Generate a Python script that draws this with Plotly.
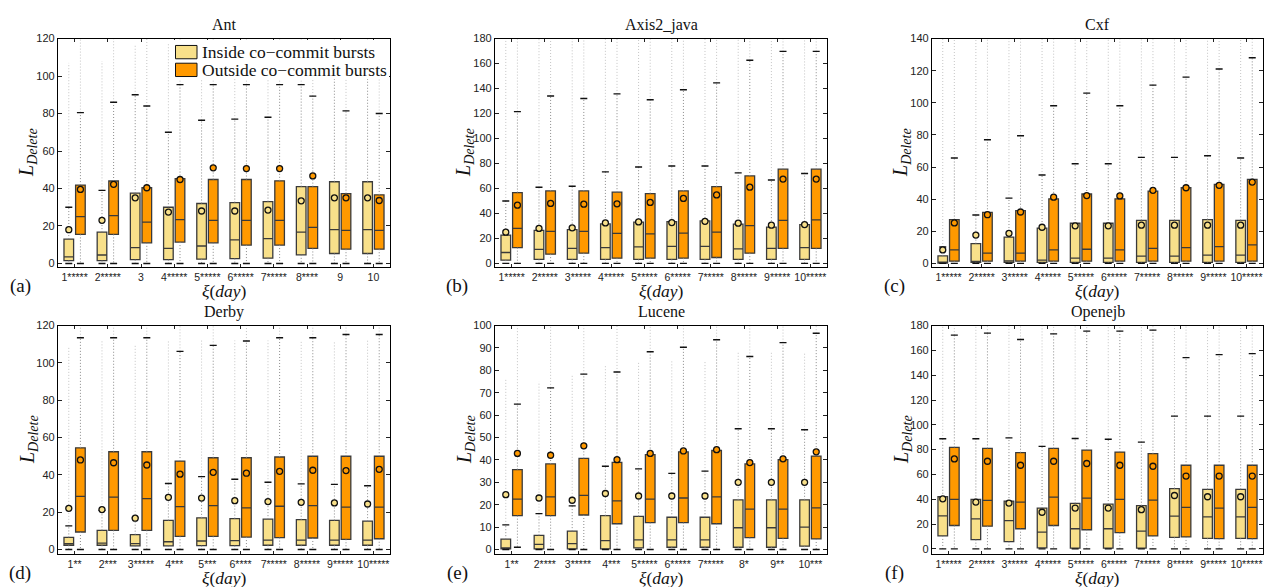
import plotly.graph_objects as go

W, H = 1264, 587
IN_COLOR = '#F8E08A'
OUT_COLOR = '#FF9900'

# ---------------- Ant ----------------
ANT_LABELS = ['1*****', '2*****', '3', '4*****', '5*****', '6*****', '7*****', '8****', '9', '10']
ANT_IN_Q1 = [1.5, 1.5, 2, 2, 2.3, 2.6, 2.8, 4.6, 5.3, 5.3]
ANT_IN_MED = [3.5, 4.5, 8.4, 8, 9.3, 12.6, 13.3, 16.7, 18, 18]
ANT_IN_Q3 = [13, 16.7, 37.5, 30, 32, 32.5, 33, 41, 43.6, 43.6]
ANT_IN_MEAN = [18, 23, 35, 27.4, 28, 28, 28.5, 33.4, 35, 35]
ANT_IN_WHI = [30, 39, 90, 70, 76.4, 77, 78, 95.4, 125, 125]
ANT_IN_WLO = [0, 0, 0, 0, 0, 0, 0, 0, 0, 0]
ANT_IN_OMAX = [107, 108, 117, 117, 118, 118, 118, 120, 125, 125]
ANT_OUT_Q1 = [15.5, 15.5, 11, 11.4, 11, 9.8, 9.8, 8, 7.6, 7.6]
ANT_OUT_MED = [25, 25.5, 22, 23.4, 23, 23, 23, 19.3, 17.6, 17.6]
ANT_OUT_Q3 = [41.8, 44, 40.4, 45.3, 44.8, 44.8, 44.1, 41, 37.3, 36.6]
ANT_OUT_MEAN = [39.5, 42.2, 40.4, 44.8, 51, 50.6, 50.6, 46.7, 35, 33.6]
ANT_OUT_WHI = [80.5, 86, 84, 95.4, 95.4, 95.4, 95.4, 89.3, 81.4, 80]
ANT_OUT_WLO = [0, 0, 0, 0, 0, 0, 0, 0, 0, 0]
ANT_OUT_OMAX = [125, 125, 125, 125, 125, 125, 125, 125, 125, 125]

# ---------------- Axis2_java ----------------
AXIS_LABELS = ['1*****', '2*****', '3*****', '4*****', '5*****', '6*****', '7*****', '8*****', '9*****', '10*****']
AXIS_IN_Q1 = [2.6, 3.2, 3.2, 3.2, 3.2, 3.2, 3.2, 3.2, 3.2, 3.2]
AXIS_IN_MED = [8.7, 11.3, 12, 12.6, 13.2, 13.7, 13.7, 11.6, 12.1, 12.6]
AXIS_IN_Q3 = [22.7, 26.4, 27, 31.6, 33, 33.5, 34, 31.4, 29, 31]
AXIS_IN_MEAN = [25, 28, 28.5, 32.4, 33.2, 32.7, 33.7, 32.2, 30.6, 31.1]
AXIS_IN_WHI = [50, 61, 61.7, 73.3, 77.2, 78, 78, 72.5, 66.7, 72]
AXIS_IN_WLO = [0, 0, 0, 0, 0, 0, 0, 0, 0, 0]
AXIS_IN_OMAX = [190, 190, 190, 190, 190, 190, 190, 190, 190, 190]
AXIS_OUT_Q1 = [12.6, 7.4, 8.2, 4.2, 4.2, 4.2, 4.7, 8.2, 12, 12]
AXIS_OUT_MED = [28, 25.6, 25.6, 24, 23.7, 24.2, 25, 30.3, 34.5, 34.8]
AXIS_OUT_Q3 = [56.7, 58, 58, 57, 55.9, 58, 61.4, 70, 75.4, 75.4]
AXIS_OUT_MEAN = [46.6, 48, 47.4, 47.7, 48.8, 52, 54.8, 61, 67.5, 67.5]
AXIS_OUT_WHI = [121.5, 134, 132, 135.7, 131, 139, 144.5, 162.6, 169.7, 169.7]
AXIS_OUT_WLO = [0, 0, 0, 0, 0, 0, 0, 0, 0, 0]
AXIS_OUT_OMAX = [190, 190, 190, 190, 190, 190, 190, 190, 190, 190]

# ---------------- Cxf ----------------
CXF_LABELS = ['1*****', '2*****', '3*****', '4*****', '5*****', '6*****', '7*****', '8*****', '9*****', '10*****']
CXF_IN_Q1 = [0.2, 0.6, 0.6, 0.6, 0.6, 0.6, 0.6, 0.6, 0.6, 0.6]
CXF_IN_MED = [0.5, 1, 1.6, 2, 3.3, 3.3, 4.5, 4.5, 5.1, 5.1]
CXF_IN_Q3 = [4.7, 12.3, 16.4, 22, 25, 25, 26.8, 26.8, 27.3, 26.8]
CXF_IN_MEAN = [8.4, 17.6, 18.7, 22.5, 23.4, 23.4, 23.8, 23.8, 23.8, 23.8]
CXF_IN_WHI = [10.2, 30.1, 40.6, 55, 62, 62, 66, 66, 67, 65.6]
CXF_IN_WLO = [0, 0, 0, 0, 0, 0, 0, 0, 0, 0]
CXF_IN_OMAX = [150, 150, 150, 150, 150, 150, 150, 150, 150, 150]
CXF_OUT_Q1 = [1.4, 1.4, 1.4, 1.4, 1.4, 1.4, 1.4, 1.4, 1.4, 1.4]
CXF_OUT_MED = [8.4, 6.4, 6.4, 8.4, 8.8, 8.4, 9.4, 9.8, 10.4, 11.5]
CXF_OUT_Q3 = [27.3, 31.8, 32.8, 40.2, 43.2, 40.2, 45, 47.1, 49.2, 52.3]
CXF_OUT_MEAN = [25.2, 30.3, 32, 41.2, 42.2, 42, 45.5, 47.1, 48.6, 50.6]
CXF_OUT_WHI = [65.6, 77, 79.5, 98.2, 106, 98.2, 111, 116, 121, 128]
CXF_OUT_WLO = [0, 0, 0, 0, 0, 0, 0, 0, 0, 0]
CXF_OUT_OMAX = [150, 150, 150, 150, 150, 150, 150, 150, 150, 150]

# ---------------- Derby ----------------
DERBY_LABELS = ['1**', '2***', '3*****', '4***', '5***', '6****', '7*****', '8*****', '9*****', '10*****']
DERBY_IN_Q1 = [2.3, 2.3, 2, 2, 2.1, 2.1, 2.3, 2.3, 2.3, 2.3]
DERBY_IN_MED = [3.2, 3.5, 3.2, 4.2, 4.6, 4.8, 5.1, 5.1, 5.1, 5.1]
DERBY_IN_Q3 = [6.5, 10.3, 8, 15.6, 17, 16.6, 16.3, 16, 15.6, 15.2]
DERBY_IN_MEAN = [22.1, 21.4, 16.8, 28, 27.6, 26.2, 25.7, 25.3, 25, 24.4]
DERBY_IN_WHI = [12.7, 21, 17, 35.4, 39.1, 37.7, 36.1, 35.2, 34.9, 34.2]
DERBY_IN_WLO = [0, 0, 0, 0, 0, 0, 0, 0, 0, 0]
DERBY_IN_OMAX = [109, 112, 110, 112, 112, 112, 112, 112, 112, 112]
DERBY_OUT_Q1 = [9.4, 10.3, 10.3, 7.1, 7.1, 6.7, 6.4, 6.2, 5.5, 5.8]
DERBY_OUT_MED = [28.5, 28.1, 27.3, 23, 23.5, 22.3, 23.2, 23.5, 22.7, 22.7]
DERBY_OUT_Q3 = [54.5, 52.4, 52.4, 47.4, 49.2, 49.2, 49.6, 50, 50, 50]
DERBY_OUT_MEAN = [48, 46.5, 45.3, 40.4, 41.4, 40.9, 41.9, 42.5, 42.3, 43]
DERBY_OUT_WHI = [113.5, 113.5, 113.5, 106.2, 109.4, 111.7, 113.5, 113.5, 115.2, 115.2]
DERBY_OUT_WLO = [0, 0, 0, 0, 0, 0, 0, 0, 0, 0]
DERBY_OUT_OMAX = [125, 125, 125, 125, 125, 125, 125, 125, 125, 125]

# ---------------- Lucene ----------------
LUCENE_LABELS = ['1**', '2****', '3*****', '4***', '5*****', '6*****', '7*****', '8*', '9**', '10***']
LUCENE_IN_Q1 = [0.3, 0.3, 0.3, 0.3, 0.7, 1, 1, 1, 1, 1.5]
LUCENE_IN_MED = [0.6, 2.3, 2.6, 4, 4.3, 4.3, 4.3, 9.7, 9.7, 10]
LUCENE_IN_Q3 = [4.6, 6.3, 8.2, 15.1, 14.8, 14.4, 14.4, 22.2, 22.2, 22.2]
LUCENE_IN_MEAN = [24.5, 23, 22, 25, 23.9, 23.9, 23.9, 30, 30, 30]
LUCENE_IN_WHI = [11, 16, 19.5, 37.2, 36, 34, 35, 53.9, 53.9, 53.5]
LUCENE_IN_WLO = [0, 0, 0, 0, 0, 0, 0, 0, 0, 0]
LUCENE_IN_OMAX = [76, 75, 78, 82, 84, 84, 84, 88, 88, 88]
LUCENE_OUT_Q1 = [15.1, 15.1, 15.4, 11.5, 12, 12, 11.5, 5.3, 5, 4.7]
LUCENE_OUT_MED = [22.5, 23.5, 24.2, 21.7, 22.5, 23, 23.5, 18, 18, 18.6]
LUCENE_OUT_Q3 = [35.7, 38.2, 40.7, 38.9, 42.4, 43.6, 44.2, 38.2, 40.1, 41.7]
LUCENE_OUT_MEAN = [42.9, 42.1, 46.3, 40.1, 42.9, 44, 44.6, 38.8, 40.5, 43.6]
LUCENE_OUT_WHI = [64.9, 72.2, 78.3, 79.3, 88.3, 90.3, 93.7, 86.2, 92.4, 96.6]
LUCENE_OUT_WLO = [1, 0, 0, 0, 0, 0, 0, 0, 0, 0]
LUCENE_OUT_OMAX = [105, 105, 105, 105, 105, 105, 105, 105, 105, 105]

# ---------------- Openejb ----------------
OPENEJB_LABELS = ['1*****', '2*****', '3*****', '4*****', '5*****', '6*****', '7*****', '8*****', '9*****', '10*****']
OPENEJB_IN_Q1 = [10.4, 7.4, 5.8, 0.8, 0.5, 0.5, 0.5, 9.3, 8.5, 8.5]
OPENEJB_IN_MED = [26.5, 24.2, 22.8, 13.5, 16.2, 16.2, 14.3, 26.3, 25.7, 25.7]
OPENEJB_IN_Q3 = [42, 39.8, 38.5, 32.9, 36.6, 36.1, 34.8, 48.6, 48, 48]
OPENEJB_IN_MEAN = [40.3, 37.7, 36.9, 29.5, 32.9, 32.9, 31.6, 43, 42, 42]
OPENEJB_IN_WHI = [88.7, 88.7, 89.5, 82.6, 89, 88.4, 86, 107, 107, 107]
OPENEJB_IN_WLO = [0, 0, 0, 0, 0, 0, 0, 0, 0, 0]
OPENEJB_IN_OMAX = [190, 190, 190, 190, 190, 190, 190, 190, 190, 190]
OPENEJB_OUT_Q1 = [18.8, 18.3, 16.2, 18.8, 15.4, 13, 10.4, 9.6, 8.2, 8.2]
OPENEJB_OUT_MED = [39.8, 39, 37.7, 41.7, 40.9, 39.8, 39.3, 33.4, 32.9, 33.4]
OPENEJB_OUT_Q3 = [81.8, 81, 77.5, 81, 79.6, 78, 76.7, 67.4, 67.4, 67.4]
OPENEJB_OUT_MEAN = [72.5, 70.6, 67.4, 70.6, 68.8, 67.4, 66.6, 58.7, 58.7, 58.7]
OPENEJB_OUT_WHI = [172.3, 173.9, 168.8, 173.3, 175.5, 175.5, 176.3, 154.2, 156.6, 157.4]
OPENEJB_OUT_WLO = [0, 0, 0, 0, 0, 0, 0, 0, 0, 0]
OPENEJB_OUT_OMAX = [190, 190, 190, 190, 190, 190, 190, 190, 190, 190]

PANELS = [
    dict(title='Ant', letter='(a)', labels=ANT_LABELS, yr=[-2.1, 120], dtick=20,
         inside=(ANT_IN_Q1, ANT_IN_MED, ANT_IN_Q3, ANT_IN_MEAN, ANT_IN_WHI, ANT_IN_WLO, ANT_IN_OMAX),
         outside=(ANT_OUT_Q1, ANT_OUT_MED, ANT_OUT_Q3, ANT_OUT_MEAN, ANT_OUT_WHI, ANT_OUT_WLO, ANT_OUT_OMAX)),
    dict(title='Axis2_java', letter='(b)', labels=AXIS_LABELS, yr=[-3.2, 180], dtick=20,
         inside=(AXIS_IN_Q1, AXIS_IN_MED, AXIS_IN_Q3, AXIS_IN_MEAN, AXIS_IN_WHI, AXIS_IN_WLO, AXIS_IN_OMAX),
         outside=(AXIS_OUT_Q1, AXIS_OUT_MED, AXIS_OUT_Q3, AXIS_OUT_MEAN, AXIS_OUT_WHI, AXIS_OUT_WLO, AXIS_OUT_OMAX)),
    dict(title='Cxf', letter='(c)', labels=CXF_LABELS, yr=[-2.5, 140], dtick=20,
         inside=(CXF_IN_Q1, CXF_IN_MED, CXF_IN_Q3, CXF_IN_MEAN, CXF_IN_WHI, CXF_IN_WLO, CXF_IN_OMAX),
         outside=(CXF_OUT_Q1, CXF_OUT_MED, CXF_OUT_Q3, CXF_OUT_MEAN, CXF_OUT_WHI, CXF_OUT_WLO, CXF_OUT_OMAX)),
    dict(title='Derby', letter='(d)', labels=DERBY_LABELS, yr=[-2.6, 120], dtick=20,
         inside=(DERBY_IN_Q1, DERBY_IN_MED, DERBY_IN_Q3, DERBY_IN_MEAN, DERBY_IN_WHI, DERBY_IN_WLO, DERBY_IN_OMAX),
         outside=(DERBY_OUT_Q1, DERBY_OUT_MED, DERBY_OUT_Q3, DERBY_OUT_MEAN, DERBY_OUT_WHI, DERBY_OUT_WLO, DERBY_OUT_OMAX)),
    dict(title='Lucene', letter='(e)', labels=LUCENE_LABELS, yr=[-2.2, 100], dtick=10,
         inside=(LUCENE_IN_Q1, LUCENE_IN_MED, LUCENE_IN_Q3, LUCENE_IN_MEAN, LUCENE_IN_WHI, LUCENE_IN_WLO, LUCENE_IN_OMAX),
         outside=(LUCENE_OUT_Q1, LUCENE_OUT_MED, LUCENE_OUT_Q3, LUCENE_OUT_MEAN, LUCENE_OUT_WHI, LUCENE_OUT_WLO, LUCENE_OUT_OMAX)),
    dict(title='Openejb', letter='(f)', labels=OPENEJB_LABELS, yr=[-4.5, 180], dtick=20,
         inside=(OPENEJB_IN_Q1, OPENEJB_IN_MED, OPENEJB_IN_Q3, OPENEJB_IN_MEAN, OPENEJB_IN_WHI, OPENEJB_IN_WLO, OPENEJB_IN_OMAX),
         outside=(OPENEJB_OUT_Q1, OPENEJB_OUT_MED, OPENEJB_OUT_Q3, OPENEJB_OUT_MEAN, OPENEJB_OUT_WHI, OPENEJB_OUT_WLO, OPENEJB_OUT_OMAX)),
]

XDOM = [(58, 390), (495, 827), (932, 1263)]
YDOM = [(33, 265), (324, 556)]
OFFSET = 0.175
BOXW = 0.29

SERIF = 'Liberation Serif, Times New Roman, serif'
SANS = 'Liberation Sans, Arial, Helvetica, sans-serif'


def px(xp):
    return xp / W


def py(yp):
    return 1 - yp / H


fig = go.Figure()
layout = {}
annotations = []

for k, P in enumerate(PANELS):
    r, c = divmod(k, 3)
    n = k + 1
    xa = 'x' if n == 1 else f'x{n}'
    ya = 'y' if n == 1 else f'y{n}'
    groups = list(range(1, len(P['labels']) + 1))
    for series, off, color in ((P['inside'], -OFFSET, IN_COLOR), (P['outside'], OFFSET, OUT_COLOR)):
        q1, med, q3, mean, whi, wlo, omax = series
        pos = [g + off for g in groups]
        # outliers (dense column of points drawn as a dotted line)
        ox, oy = [], []
        for p, w, o in zip(pos, whi, omax):
            ox += [p, p, None]
            oy += [w, o, None]
        fig.add_trace(go.Scatter(x=ox, y=oy, mode='lines', xaxis=xa, yaxis=ya,
                                 line=dict(color='#c4c4c4', width=1, dash='1px,2px'),
                                 hoverinfo='skip', showlegend=False))
        # whiskers
        wx, wy = [], []
        for p, a, b, lo, hi in zip(pos, q1, q3, wlo, whi):
            wx += [p, p, None, p, p, None]
            wy += [b, hi, None, a, lo, None]
        fig.add_trace(go.Scatter(x=wx, y=wy, mode='lines', xaxis=xa, yaxis=ya,
                                 line=dict(color='#8a8a8a', width=1, dash='1px,2px'),
                                 hoverinfo='skip', showlegend=False))
        # boxes
        fig.add_trace(go.Box(x=pos, q1=q1, median=med, q3=q3, lowerfence=q1, upperfence=q3,
                             width=BOXW, whiskerwidth=0, fillcolor=color,
                             line=dict(color='#3a3a3a', width=1.3),
                             xaxis=xa, yaxis=ya, hoverinfo='skip', showlegend=False))
        # whisker caps
        fig.add_trace(go.Scatter(x=pos + pos, y=list(whi) + list(wlo), mode='markers',
                                 xaxis=xa, yaxis=ya,
                                 marker=dict(symbol='line-ew', size=5,
                                             line=dict(color='#111111', width=1.4)),
                                 hoverinfo='skip', showlegend=False))
        # means
        fig.add_trace(go.Scatter(x=pos, y=mean, mode='markers', xaxis=xa, yaxis=ya,
                                 marker=dict(symbol='circle', size=6, color=color,
                                             line=dict(color='#111111', width=1.3)),
                                 hoverinfo='skip', showlegend=False))

    common = dict(showline=True, linecolor='black', linewidth=1.2, mirror='ticks',
                  ticks='inside', tickcolor='#222', tickwidth=1,
                  showgrid=False, zeroline=False)
    layout['xaxis' if n == 1 else f'xaxis{n}'] = dict(
        domain=[px(XDOM[c][0]), px(XDOM[c][1])], anchor=ya, range=[0.5, 10.5],
        tickmode='array', tickvals=groups, ticktext=P['labels'], ticklen=3, tickangle=0,
        tickfont=dict(family=SANS, size=10.5, color='#222'), **common)
    layout['yaxis' if n == 1 else f'yaxis{n}'] = dict(
        domain=[py(YDOM[r][1]), py(YDOM[r][0])], anchor=xa, range=P['yr'],
        tickmode='linear', tick0=0, dtick=P['dtick'], ticklen=4,
        tickfont=dict(family=SANS, size=11, color='#222'), **common)

    cx = (XDOM[c][0] + XDOM[c][1]) / 2
    cy = (YDOM[r][0] + YDOM[r][1]) / 2
    top = YDOM[r][0]
    bot = YDOM[r][1]
    annotations.append(dict(text=P['title'], x=px(cx), y=py(top - 14), xref='paper', yref='paper',
                            showarrow=False, xanchor='center', yanchor='middle',
                            font=dict(family=SERIF, size=16, color='#111')))
    annotations.append(dict(text='<i>ξ</i>(<i>day</i>)', x=px(cx), y=py(bot + 24), xref='paper', yref='paper',
                            showarrow=False, xanchor='center', yanchor='middle',
                            font=dict(family=SERIF, size=17.5, color='#111')))
    annotations.append(dict(text='<i>L</i><sub><i>Delete</i></sub>', x=px(XDOM[c][0] - 30), y=py(cy),
                            xref='paper', yref='paper', textangle=-90,
                            showarrow=False, xanchor='center', yanchor='middle',
                            font=dict(family=SERIF, size=20, color='#111')))
    annotations.append(dict(text=P['letter'], x=px(XDOM[c][0] - 38), y=py(bot + 19), xref='paper', yref='paper',
                            showarrow=False, xanchor='center', yanchor='middle',
                            font=dict(family=SERIF, size=19, color='#111')))

# legend (inside panel a)
LEGEND_TEXT = ['Inside co\u2212commit bursts', 'Outside co\u2212commit bursts']
LEGEND_COLORS = [IN_COLOR, OUT_COLOR]
shapes = [dict(type='rect', xref='paper', yref='paper', x0=px(172), x1=px(389), y0=py(74), y1=py(34.5),
               fillcolor='white', line=dict(width=0), layer='above')]
for i, (t, col) in enumerate(zip(LEGEND_TEXT, LEGEND_COLORS)):
    y0 = 40 + i * 18
    shapes.append(dict(type='rect', xref='paper', yref='paper', x0=px(175.5), x1=px(197), y0=py(y0 + 13.5), y1=py(y0),
                       fillcolor=col, line=dict(color='#111', width=1), layer='above'))
    annotations.append(dict(text=t, x=px(200), y=py(y0 + 7), xref='paper', yref='paper', showarrow=False,
                            xanchor='left', yanchor='middle', font=dict(family=SERIF, size=17.5, color='#111')))

fig.update_layout(width=W, height=H, autosize=False, margin=dict(l=0, r=0, t=0, b=0),
                  paper_bgcolor='white', plot_bgcolor='white', boxmode='overlay',
                  showlegend=False, annotations=annotations, shapes=shapes, **layout)

fig.write_html('out.html')
